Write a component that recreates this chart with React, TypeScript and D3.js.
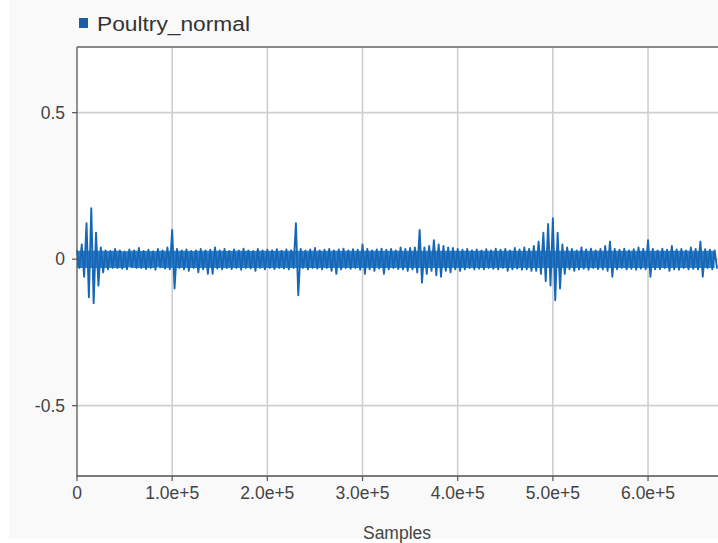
import React from "react";
import * as d3 from "d3";

// ---- data ----
const seriesName = "Poultry_normal";
const sampleStep = 5000;
const highs = [
  0.03, 0.05, 0.123, 0.174, 0.09, 0.04, 0.03, 0.028, 0.035, 0.03,
  0.026, 0.033, 0.03, 0.038, 0.028, 0.032, 0.027, 0.035, 0.03, 0.04,
  0.10, 0.035, 0.03, 0.033, 0.028, 0.03, 0.035, 0.03, 0.032, 0.04,
  0.03, 0.035, 0.028, 0.033, 0.03, 0.036, 0.03, 0.028, 0.035, 0.03,
  0.032, 0.03, 0.034, 0.029, 0.033, 0.03, 0.123, 0.035, 0.03, 0.033,
  0.038, 0.03, 0.032, 0.035, 0.03, 0.033, 0.036, 0.03, 0.034, 0.032,
  0.05, 0.035, 0.03, 0.033, 0.036, 0.032, 0.035, 0.03, 0.04, 0.035,
  0.038, 0.04, 0.10, 0.04, 0.045, 0.065, 0.05, 0.045, 0.04, 0.038,
  0.035, 0.032, 0.035, 0.03, 0.033, 0.03, 0.034, 0.03, 0.036, 0.032,
  0.035, 0.03, 0.038, 0.033, 0.04, 0.035, 0.045, 0.06, 0.09, 0.12,
  0.14, 0.09, 0.05, 0.04, 0.035, 0.03, 0.04, 0.033, 0.036, 0.03,
  0.035, 0.045, 0.06, 0.035, 0.032, 0.036, 0.03, 0.034, 0.04, 0.035,
  0.065, 0.035, 0.03, 0.036, 0.032, 0.045, 0.033, 0.035, 0.03, 0.04,
  0.035, 0.06, 0.034, 0.032, 0.03,
];
const lows = [
  -0.03, -0.06, -0.13, -0.15, -0.09, -0.045, -0.035, -0.03, -0.03, -0.032,
  -0.035, -0.028, -0.03, -0.03, -0.034, -0.03, -0.036, -0.028, -0.032, -0.035,
  -0.10, -0.03, -0.035, -0.04, -0.03, -0.045, -0.035, -0.05, -0.05, -0.032,
  -0.035, -0.03, -0.034, -0.03, -0.036, -0.03, -0.032, -0.04, -0.03, -0.035,
  -0.03, -0.034, -0.03, -0.032, -0.035, -0.03, -0.123, -0.03, -0.035, -0.03,
  -0.032, -0.035, -0.03, -0.04, -0.05, -0.035, -0.03, -0.033, -0.03, -0.036,
  -0.05, -0.035, -0.04, -0.032, -0.05, -0.035, -0.03, -0.034, -0.035, -0.04,
  -0.035, -0.045, -0.08, -0.05, -0.04, -0.055, -0.06, -0.04, -0.045, -0.035,
  -0.04, -0.035, -0.03, -0.035, -0.032, -0.035, -0.03, -0.033, -0.035, -0.03,
  -0.04, -0.035, -0.032, -0.036, -0.035, -0.04, -0.04, -0.05, -0.075, -0.09,
  -0.14, -0.10, -0.05, -0.035, -0.04, -0.035, -0.032, -0.036, -0.03, -0.034,
  -0.035, -0.04, -0.06, -0.035, -0.03, -0.035, -0.033, -0.036, -0.032, -0.035,
  -0.06, -0.035, -0.034, -0.03, -0.04, -0.035, -0.036, -0.03, -0.035, -0.033,
  -0.035, -0.06, -0.03, -0.035, -0.032,
];
const xTickValues = [0, 100000, 200000, 300000, 400000, 500000, 600000];
const xTickLabels = ["0", "1.0e+5", "2.0e+5", "3.0e+5", "4.0e+5", "5.0e+5", "6.0e+5"];
const yTickValues = [-0.5, 0, 0.5];
const yTickLabels = ["-0.5", "0", "0.5"];
const xLabel = "Samples";
const xMax = 673500;
const yDomain = [-0.74, 0.724];

export default function App() {
  const W = 718, H = 543;
  const left = 77, right = 718, top = 47, bottom = 476;
  const x = d3.scaleLinear().domain([0, xMax]).range([left, right]);
  const y = d3.scaleLinear().domain(yDomain).range([bottom, top]);

  const pts: [number, number][] = [];
  highs.forEach((h, i) => {
    const s = i * sampleStep;
    pts.push([x(s), y(h)]);
    pts.push([x(s + sampleStep / 2), y(lows[i])]);
  });
  const zig = d3.line()(pts) || "";

  const core = d3
    .area<number>()
    .x((_, i) => x(i * sampleStep))
    .y0((_, i) => y(Math.max(lows[i], -0.03)))
    .y1((h) => y(Math.min(h, 0.029)))(highs) || "";

  const font = "Arial, 'Liberation Sans', Helvetica, sans-serif";
  return (
    <svg width={W} height={H} style={{ position: "absolute", left: 0, top: 0 }} fontFamily={font}>
      <rect x={0} y={0} width={W} height={H} fill="#ffffff" />
      <rect x={9} y={0} width={W - 9} height={539} fill="#f9f9f9" />
      <rect x={left} y={top} width={right - left} height={bottom - top} fill="#ffffff" />
      {/* grid */}
      {xTickValues.slice(1).map((v) => (
        <line key={"gx" + v} x1={x(v)} x2={x(v)} y1={top} y2={bottom} stroke="#cfcfcf" strokeWidth={1.6} />
      ))}
      {yTickValues.map((v) => (
        <line key={"gy" + v} x1={left} x2={right} y1={y(v)} y2={y(v)} stroke="#cfcfcf" strokeWidth={1.6} />
      ))}
      {/* data */}
      <path d={core} fill="#2a80d0" />
      <path d={zig} fill="none" stroke="#1767b5" strokeWidth={1.9} strokeLinejoin="round" />
      {/* frame */}
      <line x1={left} x2={right} y1={top} y2={top} stroke="#8a8a8a" strokeWidth={2} />
      <line x1={left} x2={right} y1={bottom} y2={bottom} stroke="#7a7a7a" strokeWidth={2} />
      <line x1={left} x2={left} y1={top} y2={bottom + 1} stroke="#555" strokeWidth={1.3} />
      {/* y ticks */}
      {yTickValues.map((v, i) => (
        <g key={"ty" + v}>
          <line x1={left - 5} x2={left} y1={y(v)} y2={y(v)} stroke="#555" strokeWidth={1.2} />
          <text x={left - 12} y={y(v)} dy="0.35em" textAnchor="end" fontSize={17.5} fill="#444">
            {yTickLabels[i]}
          </text>
        </g>
      ))}
      {/* x ticks */}
      {xTickValues.map((v, i) => (
        <g key={"tx" + v}>
          <line x1={x(v)} x2={x(v)} y1={bottom} y2={bottom + 5} stroke="#555" strokeWidth={1.2} />
          <text x={x(v)} y={bottom + 23} textAnchor="middle" fontSize={17.5} fill="#444">
            {xTickLabels[i]}
          </text>
        </g>
      ))}
      <text x={397} y={539} textAnchor="middle" fontSize={17.5} fill="#444">
        {xLabel}
      </text>
      {/* legend */}
      <rect x={79} y={18} width={9} height={10} fill="#1a5da8" />
      <text x={97} y={31} fontSize={20} textLength={153} lengthAdjust="spacingAndGlyphs" fill="#333">
        {seriesName}
      </text>
    </svg>
  );
}
